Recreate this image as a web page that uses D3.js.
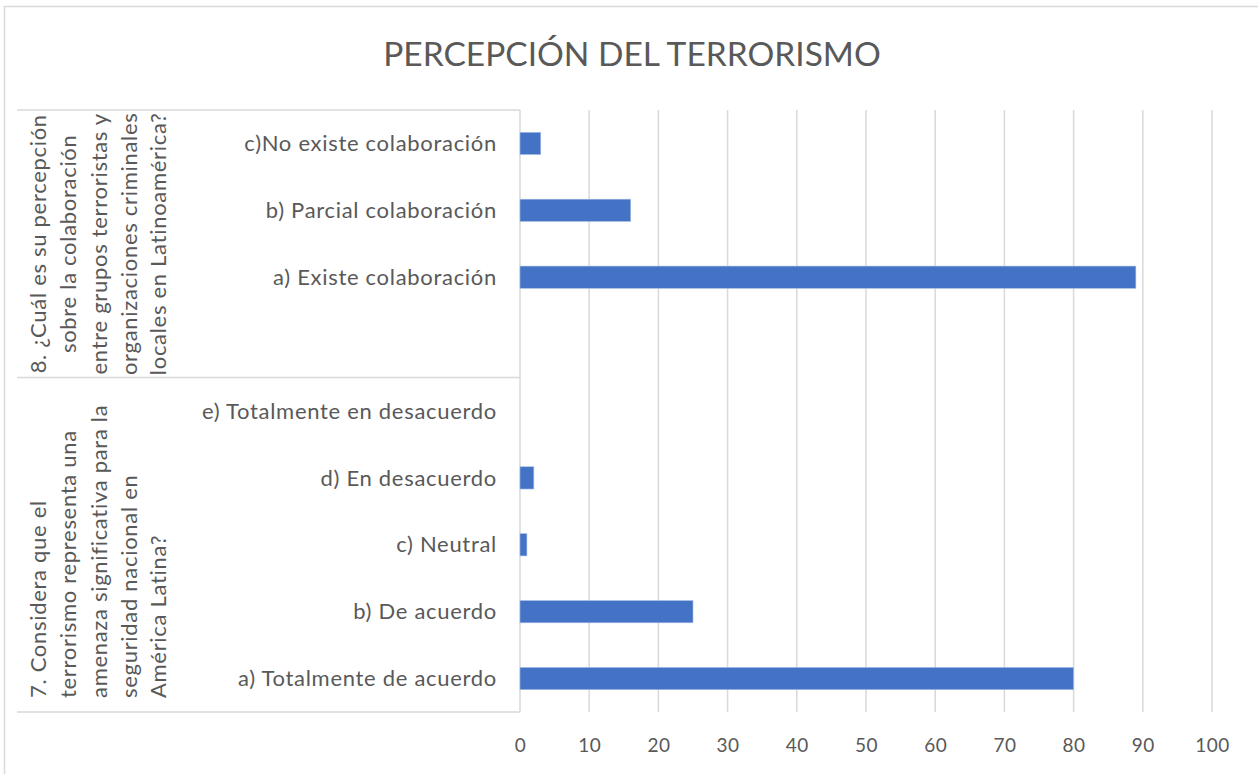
<!DOCTYPE html>
<html lang="es">
<head>
<meta charset="utf-8">
<title>Percepción del terrorismo</title>
<script src="https://cdn.jsdelivr.net/npm/d3@7"></script>
<style>
  body { margin: 0; background: #fff; }
  text { font-family: Lato, "Open Sans", sans-serif; fill: #595959; }
</style>
</head>
<body>
<div id="chart"></div>
<script>
// data
var title = "PERCEPCIÓN DEL TERRORISMO";

var q7Lines = ["7. Considera que el", "terrorismo representa una", "amenaza significativa para la", "seguridad nacional en", "América Latina?"];
var q7Labels = ["a) Totalmente de acuerdo", "b) De acuerdo", "c) Neutral", "d) En desacuerdo", "e) Totalmente en desacuerdo"];
var q7Values = [80, 25, 1, 2, 0];

var q8Lines = ["8. ¿Cuál es su percepción", "sobre la colaboración", "entre grupos terroristas y", "organizaciones criminales", "locales en Latinoamérica?"];
var q8Labels = ["", "a) Existe colaboración", "b) Parcial colaboración", "c)No existe colaboración"];
var q8Values = [null, 89, 16, 3];

var xTicks = [0, 10, 20, 30, 40, 50, 60, 70, 80, 90, 100];

var w = 1258, h = 774;
var plotLeft = 520, plotRight = 1212, plotTop = 110, plotBottom = 712, groupLeft = 17;
var labelSize = 22, labelSpacing = 0.7;

// rows from bottom to top, like the Excel category axis
var rows = [];
q7Labels.forEach(function(l, i) { rows.push({ key: "q7-" + i, label: l, value: q7Values[i], group: 0 }); });
q8Labels.forEach(function(l, i) { rows.push({ key: "q8-" + i, label: l, value: q8Values[i], group: 1 }); });

var x = d3.scaleLinear().domain([0, 100]).range([plotLeft, plotRight]);
var y = d3.scaleBand()
  .domain(rows.map(function(d) { return d.key; }).reverse())
  .range([plotTop, plotBottom])
  .paddingInner(2 / 3)
  .paddingOuter(1 / 3);

var svg = d3.select("#chart").append("svg").attr("width", w).attr("height", h);

svg.append("rect")
  .attr("x", 4.5).attr("y", 6.5)
  .attr("width", w).attr("height", h)
  .attr("fill", "none").attr("stroke", "#d9d9d9").attr("stroke-width", 1.5);

svg.append("text")
  .attr("x", 632).attr("y", 66)
  .attr("text-anchor", "middle")
  .attr("font-size", 33.5)
  .text(title);

// gridlines
svg.append("g").selectAll("line")
  .data(xTicks.slice(1))
  .enter()
  .append("line")
  .attr("x1", function(d) { return x(d); })
  .attr("x2", function(d) { return x(d); })
  .attr("y1", plotTop).attr("y2", plotBottom)
  .attr("stroke", "#d9d9d9").attr("stroke-width", 1.5);

// x axis labels
var xAxis = d3.axisBottom(x).tickValues(xTicks).tickSize(0).tickPadding(0);
var gx = svg.append("g")
  .attr("transform", "translate(0," + plotBottom + ")")
  .call(xAxis);
gx.select(".domain").remove();
gx.selectAll("text")
  .attr("y", 40)
  .attr("dy", 0)
  .attr("font-size", 19)
  .attr("letter-spacing", 0.5)
  .style("font-family", "Lato, 'Open Sans', sans-serif")
  .attr("fill", "#595959");

// category axis frame
var step = y.step();
var sepY = y("q8-0") + y.bandwidth() / 2 + step / 2;
svg.append("g").selectAll("line")
  .data([plotTop, sepY, plotBottom])
  .enter()
  .append("line")
  .attr("x1", groupLeft).attr("x2", plotLeft)
  .attr("y1", function(d) { return d; })
  .attr("y2", function(d) { return d; })
  .attr("stroke", "#d9d9d9").attr("stroke-width", 1.5);

svg.append("line")
  .attr("x1", plotLeft).attr("x2", plotLeft)
  .attr("y1", plotTop).attr("y2", plotBottom)
  .attr("stroke", "#d9d9d9").attr("stroke-width", 1.5);

// bars
svg.append("g").selectAll("rect")
  .data(rows.filter(function(d) { return d.value; }))
  .enter()
  .append("rect")
  .attr("x", x(0))
  .attr("y", function(d) { return y(d.key); })
  .attr("width", function(d) { return x(d.value) - x(0); })
  .attr("height", y.bandwidth())
  .attr("fill", "#4472c4")
  .attr("stroke", "#a9c0e6")
  .attr("stroke-width", 0.6);

// category labels
svg.append("g").selectAll("text")
  .data(rows.filter(function(d) { return d.label; }))
  .enter()
  .append("text")
  .attr("x", 497)
  .attr("y", function(d) { return y(d.key) + y.bandwidth() / 2; })
  .attr("dy", "0.35em")
  .attr("text-anchor", "end")
  .attr("font-size", labelSize)
  .attr("letter-spacing", labelSpacing)
  .text(function(d) { return d.label; });

// group labels, rotated
var lineX = [38, 68, 99, 129, 158];
var g8Mid = (plotTop + sepY) / 2;
svg.append("g").selectAll("text")
  .data(q8Lines)
  .enter()
  .append("text")
  .attr("transform", function(d, i) { return "translate(" + lineX[i] + "," + g8Mid + ") rotate(-90)"; })
  .attr("dy", "0.35em")
  .attr("text-anchor", "middle")
  .attr("font-size", labelSize)
  .attr("letter-spacing", labelSpacing)
  .text(function(d) { return d; });

svg.append("g").selectAll("text")
  .data(q7Lines)
  .enter()
  .append("text")
  .attr("transform", function(d, i) { return "translate(" + lineX[i] + "," + 698 + ") rotate(-90)"; })
  .attr("dy", "0.35em")
  .attr("text-anchor", "start")
  .attr("font-size", labelSize)
  .attr("letter-spacing", labelSpacing)
  .text(function(d) { return d; });
</script>
</body>
</html>
